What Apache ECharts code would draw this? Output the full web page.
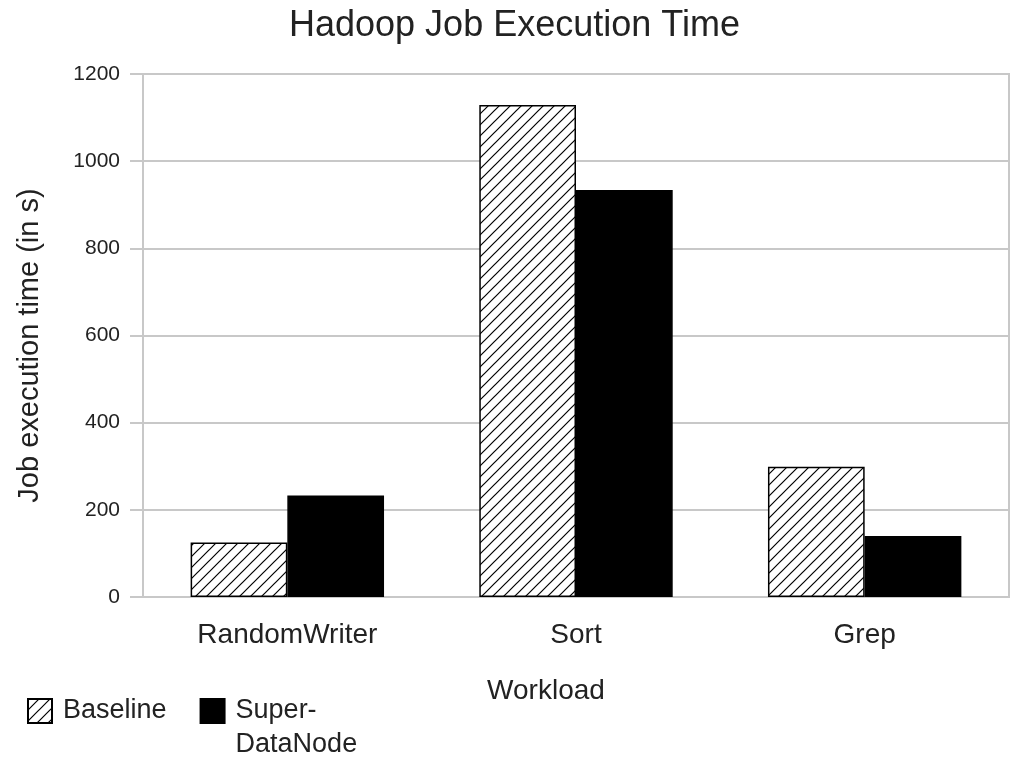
<!DOCTYPE html>
<html>
<head>
<meta charset="utf-8">
<title>Hadoop Job Execution Time</title>
<script src="https://cdn.jsdelivr.net/npm/echarts@6/dist/echarts.min.js"></script>
<style>
    html, body { margin: 0; padding: 0; background: #fff; }
    .chart { width: 1015px; height: 760px; }
</style>
</head>
<body>
<div class="chart"></div>
<script>
var workloads = ["RandomWriter", "Sort", "Grep"];
var baselineList = [125, 1129, 299];
var superDataNodeList = [233, 934, 140];
var yTicks = [0, 200, 400, 600, 800, 1000, 1200];

(function () {
    // 斜线填充
    var hatch = document.createElement("canvas");
    hatch.width = 11;
    hatch.height = 11;
    var ctx = hatch.getContext("2d");
    ctx.fillStyle = "#fff";
    ctx.fillRect(0, 0, 11, 11);
    ctx.strokeStyle = "#000";
    ctx.lineWidth = 1.2;
    ctx.beginPath();
    ctx.moveTo(-1, 12); ctx.lineTo(12, -1);
    ctx.moveTo(-2, 2); ctx.lineTo(2, -2);
    ctx.moveTo(9, 13); ctx.lineTo(13, 9);
    ctx.stroke();

    var font = "'Liberation Sans', Arial, sans-serif";
    var gridColor = "#c8c8c8";

    var myChart = echarts.init(document.querySelector(".chart"));

    var option = {
        backgroundColor: "#fff",
        textStyle: { fontFamily: font, color: "#222" },
        title: {
            text: "Hadoop Job Execution Time",
            left: 284,
            top: 3,
            textStyle: {
                fontFamily: font,
                fontSize: 36,
                fontWeight: "normal",
                color: "#222"
            }
        },
        legend: {
            left: 27,
            top: 660,
            padding: 0,
            itemGap: 33,
            itemWidth: 24,
            itemHeight: 24,
            icon: "rect",
            textStyle: {
                fontFamily: font,
                fontSize: 27,
                lineHeight: 34,
                color: "#222",
                padding: [0, 0, 0, 6]
            },
            // 第二项分两行, 首行与图例方块对齐
            formatter: function (name) {
                return name == "Super-DataNode" ? " \nSuper-\nDataNode" : name;
            },
            data: ["Baseline", "Super-DataNode"]
        },
        grid: {
            left: 143,
            right: 6,
            top: 74,
            bottom: 163,
            show: true,
            borderColor: gridColor,
            borderWidth: 2
        },
        xAxis: {
            type: "category",
            data: workloads,
            name: "Workload",
            nameLocation: "middle",
            nameGap: 80,
            nameTextStyle: {
                fontFamily: font,
                fontSize: 28,
                color: "#222",
                padding: [0, 60, 0, 0]
            },
            axisLine: { lineStyle: { color: gridColor, width: 2 } },
            axisTick: { length: 10, lineStyle: { color: gridColor, width: 2 } },
            axisLabel: {
                margin: 24,
                fontFamily: font,
                fontSize: 28,
                color: "#222"
            }
        },
        yAxis: {
            type: "value",
            min: yTicks[0],
            max: yTicks[yTicks.length - 1],
            interval: 200,
            name: "Job execution time (in s)",
            nameLocation: "middle",
            nameGap: 99,
            nameTextStyle: {
                fontFamily: font,
                fontSize: 29,
                color: "#222",
                padding: [0, 20, 0, 0]
            },
            axisLine: { show: true, lineStyle: { color: gridColor, width: 2 } },
            axisTick: { show: true, length: 13, lineStyle: { color: gridColor, width: 2 } },
            axisLabel: {
                margin: 23,
                fontFamily: font,
                fontSize: 21,
                color: "#222",
                formatter: function (v) { return String(v); }
            },
            splitLine: { lineStyle: { color: gridColor, width: 2 } }
        },
        series: [
            {
                name: "Baseline",
                type: "bar",
                barGap: "0%",
                barCategoryGap: "33%",
                data: baselineList,
                itemStyle: {
                    color: { image: hatch, repeat: "repeat" },
                    borderColor: "#000",
                    borderWidth: 1.5
                }
            },
            {
                name: "Super-DataNode",
                type: "bar",
                barGap: "0%",
                barCategoryGap: "33%",
                data: superDataNodeList,
                itemStyle: {
                    color: "#000",
                    borderColor: "#000",
                    borderWidth: 1.5
                }
            }
        ]
    };

    myChart.setOption(option);
    window.addEventListener("resize", function () {
        myChart.resize();
    });
})();
</script>
</body>
</html>
